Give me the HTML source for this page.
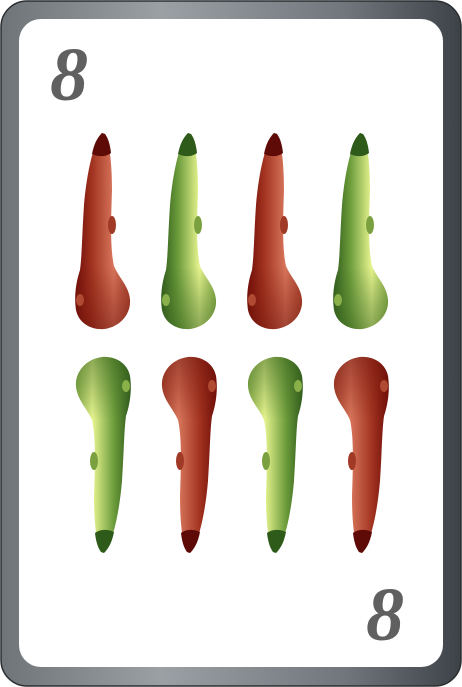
<!DOCTYPE html>
<html><head><meta charset="utf-8"><style>
html,body{margin:0;padding:0;background:#fff;}
svg{display:block;}
</style></head><body>
<svg width="462" height="687" viewBox="0 0 462 687">
<defs>
<linearGradient id="frame" x1="0" x2="1" y1="0" y2="0">
<stop offset="0" stop-color="#6f7478"/><stop offset="0.35" stop-color="#9aa0a4"/><stop offset="0.75" stop-color="#70767b"/><stop offset="1" stop-color="#3c4247"/>
</linearGradient>
<linearGradient id="red" x1="0" x2="1" y1="0" y2="0">
<stop offset="0" stop-color="#6e0c08"/><stop offset="0.3" stop-color="#a0321f"/><stop offset="0.7" stop-color="#d8765c"/><stop offset="1" stop-color="#a84430"/>
</linearGradient>
<linearGradient id="green" x1="0" x2="1" y1="0" y2="0">
<stop offset="0" stop-color="#2f5a1c"/><stop offset="0.3" stop-color="#6a9a3a"/><stop offset="0.7" stop-color="#e8f590"/><stop offset="1" stop-color="#8cb04c"/>
</linearGradient>
<linearGradient id="redBulb" x1="0" x2="0" y1="0" y2="1">
<stop offset="0" stop-color="#7a1a0e" stop-opacity="0"/><stop offset="0.6" stop-color="#7a1a0e" stop-opacity="0.35"/><stop offset="1" stop-color="#6a120a" stop-opacity="0.5"/>
</linearGradient>
<linearGradient id="greenBulb" x1="0" x2="0" y1="0" y2="1">
<stop offset="0" stop-color="#3e6a22" stop-opacity="0"/><stop offset="0.6" stop-color="#3e6a22" stop-opacity="0.35"/><stop offset="1" stop-color="#2e5a18" stop-opacity="0.5"/>
</linearGradient>
<path id="club" d="M28,3 C20,12 13,40 10,75 C8,105 8,125 6,140 C2,152 0,166 2,180 C5,194 18,200 30,199 C46,197 57,184 56,170 C55,156 45,148 40,136 C36,118 37,90 38,60 C38,35 36,15 31,4 Z"/>
<path id="bulbClip" d="M6,140 C2,152 0,166 2,180 C5,194 18,200 30,199 C46,197 57,184 56,170 C55,156 45,148 40,136 Z"/>
</defs>
<rect x="1" y="1" width="460" height="685" rx="26" fill="url(#frame)" stroke="#2a2e31" stroke-width="1.5"/>
<rect x="19" y="19" width="424" height="648" rx="22" fill="#fff"/>
<text x="50" y="100" font-family="Liberation Serif, serif" font-style="italic" font-weight="bold" font-size="76" fill="#606060">8</text>
<text x="366" y="640" font-family="Liberation Serif, serif" font-style="italic" font-weight="bold" font-size="76" fill="#606060">8</text>
<g id="clubs"></g>
</svg>
<script>
const clubX=[74,160,246,332];
const topColors=['red','green','red','green'];
const botColors=['green','red','green','red'];
const g=document.getElementById('clubs');
const NS='http://www.w3.org/2000/svg';
function club(x,y,color,flip,i,row){
  const grp=document.createElementNS(NS,'g');
  
  
  grp.setAttribute('transform',flip?`translate(${x+60},${y+200}) rotate(180)`:`translate(${x},${y})`);
  const u=document.createElementNS(NS,'use');
  u.setAttribute('href','#club');u.setAttribute('fill','url(#'+color+')');
  grp.appendChild(u);
  const b=document.createElementNS(NS,'use');
  b.setAttribute('href','#bulbClip');b.setAttribute('fill','url(#'+color+'Bulb)');
  grp.appendChild(b);
  const tip=document.createElementNS(NS,'path');
  tip.setAttribute('d','M28,3 C23,8 20,14 18,24 C24,27 32,27 37,23 C36,14 34,8 31,4 Z');
  tip.setAttribute('fill',color==='red'?'#5e0a06':'#2e5a1a');grp.appendChild(tip);
  const k=document.createElementNS(NS,'ellipse');
  k.setAttribute('cx',38);k.setAttribute('cy',95);k.setAttribute('rx',4);k.setAttribute('ry',9);
  k.setAttribute('fill',color==='red'?'#a03a26':'#7aa040');grp.appendChild(k);
  const k2=document.createElementNS(NS,'ellipse');
  k2.setAttribute('cx',6);k2.setAttribute('cy',170);k2.setAttribute('rx',4);k2.setAttribute('ry',6);
  k2.setAttribute('fill',color==='red'?'#b04a32':'#8ab04a');grp.appendChild(k2);
  g.appendChild(grp);
}
clubX.forEach((x,i)=>club(x,130,topColors[i],false,i,'top'));
clubX.forEach((x,i)=>club(x-2,356,botColors[i],true,i,'bottom'));
</script>
</body></html>
